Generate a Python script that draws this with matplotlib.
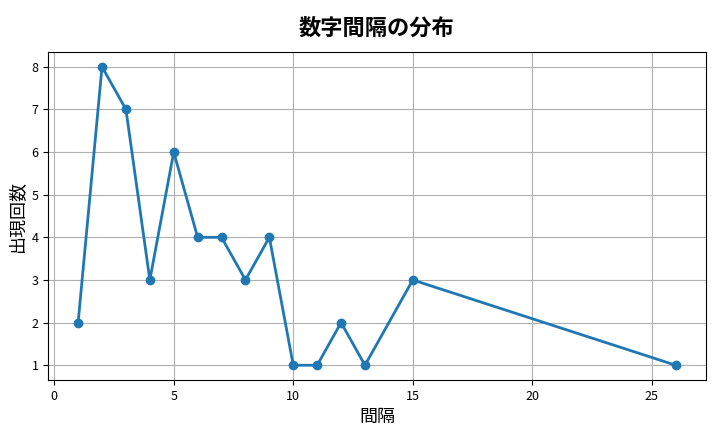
import matplotlib
matplotlib.use("Agg")
import matplotlib.pyplot as plt

plt.rcParams['font.family'] = ['Noto Sans CJK JP', 'DejaVu Sans']

# interval -> count
intervals = [1, 2, 3, 4, 5, 6, 7, 8, 9, 10, 11, 12, 13, 15, 26]
counts = [2, 8, 7, 3, 6, 4, 4, 3, 4, 1, 1, 2, 1, 3, 1]

fig, ax = plt.subplots(figsize=(7.2, 4.32), dpi=100)
ax.plot(intervals, counts, marker='o', linewidth=2, markersize=6, color='#1f77b4')
ax.set_title('数字間隔の分布', fontsize=16, fontweight='bold', pad=12)
ax.set_xlabel('間隔', fontsize=13)
ax.set_ylabel('出現回数', fontsize=13)
ax.tick_params(labelsize=9)
ax.grid(True)
fig.subplots_adjust(left=0.067, right=0.98, top=0.88, bottom=0.12)
fig.savefig('out.png')
